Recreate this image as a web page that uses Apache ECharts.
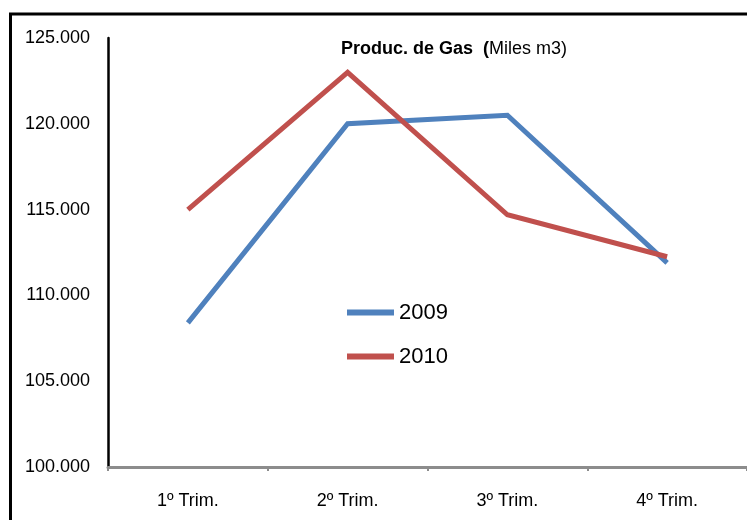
<!DOCTYPE html>
<html>
<head>
<meta charset="utf-8">
<script src="https://cdn.jsdelivr.net/npm/echarts@6/dist/echarts.min.js"></script>
<style>html,body{margin:0;padding:0;background:#fff;}#c{width:747px;height:520px;}</style>
</head>
<body>
<div id="c"></div>
<script>
const categories = ['1º Trim.', '2º Trim.', '3º Trim.', '4º Trim.'];
const values2009 = [108.4, 120.0, 120.5, 111.9];
const values2010 = [115.0, 123.0, 114.7, 112.25];
const seriesNames = ['2009', '2010'];
const yTicks = [100, 105, 110, 115, 120, 125];

const FONT = '"Liberation Sans", Arial, sans-serif';
const chart = echarts.init(document.getElementById('c'), null, {renderer: 'canvas'});
chart.setOption({
  animation: false,
  backgroundColor: '#fff',
  title: {
    text: '{b|Produc. de Gas}  {b|(}{n|Miles m3)}',
    left: 454, top: 40, textAlign: 'center', padding: 0,
    textStyle: {
      fontWeight: 'normal',
      rich: {
        b: {fontFamily: FONT, fontWeight: 'bold', fontSize: 18, color: '#000'},
        n: {fontFamily: FONT, fontWeight: 'normal', fontSize: 18, color: '#000'}
      }
    }
  },
  legend: {
    orient: 'vertical',
    left: 347, top: 300, padding: 0,
    itemWidth: 47, itemHeight: 6, itemGap: 19,
    icon: 'rect',
    textStyle: {fontFamily: FONT, fontSize: 22, color: '#000', lineHeight: 25},
    data: seriesNames
  },
  grid: {left: 108, top: 38, width: 645, height: 429},
  xAxis: {
    type: 'category',
    data: categories,
    boundaryGap: true,
    axisLine: {lineStyle: {color: '#8c8c8c', width: 3}},
    axisTick: {show: true, length: 4, lineStyle: {color: '#8c8c8c', width: 2}},
    axisLabel: {fontFamily: FONT, fontSize: 18, color: '#000', margin: 25}
  },
  yAxis: {
    type: 'value',
    min: yTicks[0], max: yTicks[yTicks.length - 1], interval: 5,
    axisLine: {show: true, lineStyle: {color: '#000', width: 2.5}},
    axisTick: {show: false},
    splitLine: {show: false},
    axisLabel: {
      fontFamily: FONT, fontSize: 18, color: '#000', margin: 18,
      formatter: v => v.toFixed(3)
    }
  },
  series: [
    {name: seriesNames[0], type: 'line', data: values2009, showSymbol: false, symbol: 'none',
     color: '#4F81BD', lineStyle: {width: 5, color: '#4F81BD', join: 'miter', cap: 'butt'}, z: 2},
    {name: seriesNames[1], type: 'line', data: values2010, showSymbol: false, symbol: 'none',
     color: '#C0504D', lineStyle: {width: 5, color: '#C0504D', join: 'miter', cap: 'butt'}, z: 3}
  ],
  graphic: [
    {type: 'line', shape: {x1: 9, y1: 14, x2: 747, y2: 14}, style: {stroke: '#000', lineWidth: 3}},
    {type: 'line', shape: {x1: 10.5, y1: 13, x2: 10.5, y2: 520}, style: {stroke: '#000', lineWidth: 3}}
  ]
});
</script>
</body>
</html>
